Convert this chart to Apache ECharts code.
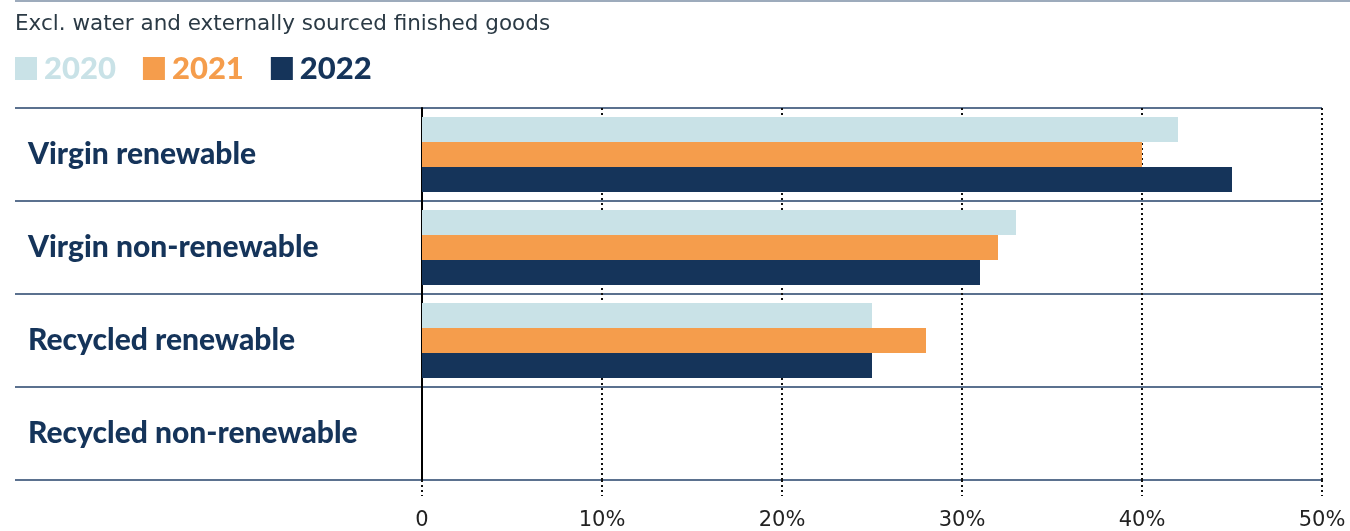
<!DOCTYPE html>
<html>
<head>
<meta charset="utf-8">
<script src="https://cdn.jsdelivr.net/npm/echarts@6/dist/echarts.min.js"></script>
<style>
  html, body { margin: 0; padding: 0; background: #fff; }
  #chart { width: 1350px; height: 531px; }
</style>
</head>
<body>
<div id="chart"></div>
<script>
const categories = ['Virgin renewable', 'Virgin non-renewable', 'Recycled renewable', 'Recycled non-renewable']
const years = ['2020', '2021', '2022']
const values2020 = [42, 33, 25, 0]
const values2021 = [40, 32, 28, 0]
const values2022 = [45, 31, 25, 0]
const xTicks = [0, 10, 20, 30, 40, 50]

const colors = ['#c9e2e7', '#f59d4c', '#15345a']
const navy = '#15345a'
const headFont = 'Lato, "DejaVu Sans", sans-serif'
const bodyFont = '"DejaVu Sans", sans-serif'

const chart = echarts.init(document.getElementById('chart'))

const seriesValues = [values2020, values2021, values2022]

chart.setOption({
  animation: false,
  title: {
    text: 'Excl. water and externally sourced finished goods',
    left: 10,
    top: 8,
    textStyle: { fontFamily: bodyFont, fontWeight: 'normal', fontSize: 21.5, color: '#2b3a45' }
  },
  graphic: [{
    type: 'line',
    shape: { x1: 15, y1: 1, x2: 1350, y2: 1 },
    style: { stroke: '#7d8fa6', lineWidth: 1.5 }
  }],
  legend: {
    left: 15,
    top: 53,
    padding: 0,
    itemWidth: 22,
    itemHeight: 23,
    itemGap: 27,
    icon: 'rect',
    data: years.map((y, i) => ({
      name: y,
      textStyle: {
        color: colors[i],
        fontFamily: headFont,
        fontWeight: 900,
        fontSize: 31,
        padding: [0, 0, 0, 2]
      }
    }))
  },
  grid: [
    { left: 15, right: 28, top: 108, bottom: 51 },
    { left: 422, right: 28, top: 108, bottom: 51 }
  ],
  xAxis: [
    { gridIndex: 0, type: 'value', show: false },
    {
      gridIndex: 1,
      type: 'value',
      min: xTicks[0],
      max: xTicks[xTicks.length - 1],
      interval: 10,
      axisLine: { show: false },
      axisTick: { show: true, length: 16, lineStyle: { color: '#111', width: 2, type: [2, 3] } },
      splitLine: { show: true, lineStyle: { color: '#111', width: 2, type: [2, 3] } },
      axisLabel: {
        margin: 30,
        fontFamily: bodyFont,
        fontSize: 21,
        color: '#222',
        formatter: v => (v === 0 ? '0' : v + '%')
      }
    }
  ],
  yAxis: [
    {
      gridIndex: 0,
      type: 'category',
      inverse: true,
      data: categories,
      axisLine: { show: false },
      axisTick: { show: false },
      splitLine: { show: true, lineStyle: { color: '#24426a', width: 1.5 } },
      axisLabel: {
        inside: true,
        margin: 13,
        fontFamily: headFont,
        fontWeight: 900,
        fontSize: 30,
        color: navy,
        padding: [0, 0, -8, 0]
      }
    },
    {
      gridIndex: 1,
      type: 'category',
      inverse: true,
      data: categories,
      axisLine: { show: true, lineStyle: { color: '#000', width: 2 } },
      axisTick: { show: false },
      axisLabel: { show: false },
      splitLine: { show: false }
    }
  ],
  series: years.map((y, i) => ({
    name: y,
    type: 'bar',
    xAxisIndex: 1,
    yAxisIndex: 1,
    barWidth: 25,
    barGap: '0%',
    itemStyle: { color: colors[i] },
    data: seriesValues[i]
  }))
})
</script>
</body>
</html>
